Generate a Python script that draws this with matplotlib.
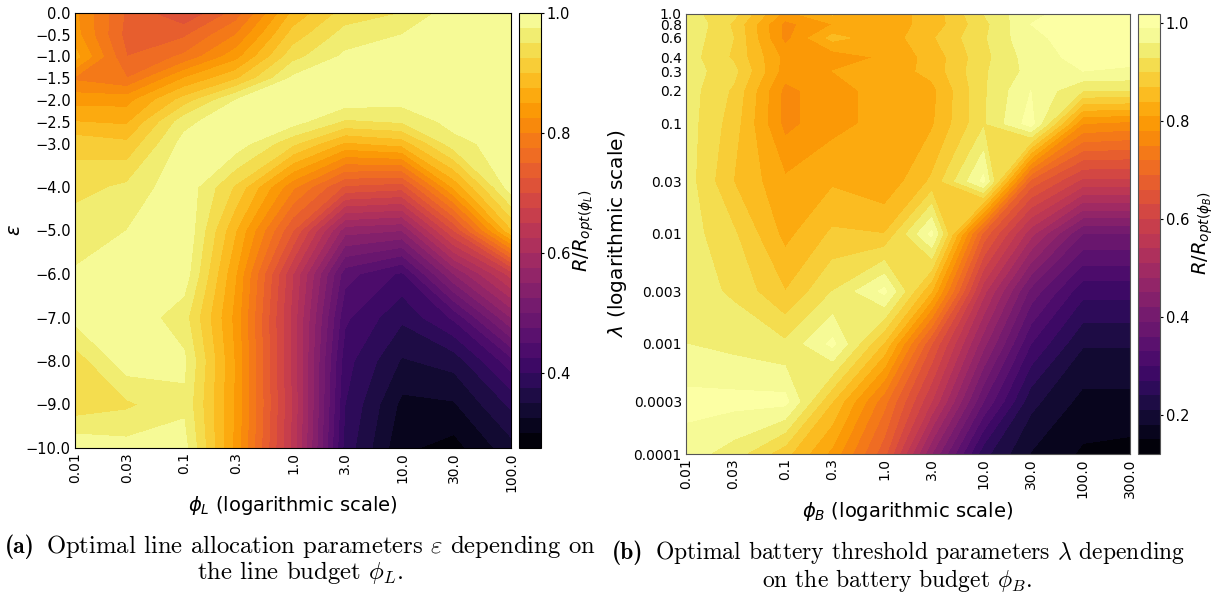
import matplotlib
matplotlib.use('Agg')
import matplotlib.pyplot as plt
import numpy as np

plt.rcParams['mathtext.fontset'] = 'dejavusans'

phi_l = [0.01, 0.03, 0.1, 0.3, 1.0, 3.0, 10.0, 30.0, 100.0]
eps = [0.0, -0.5, -1.0, -1.5, -2.0, -2.5, -3.0, -4.0, -5.0, -6.0, -7.0, -8.0, -9.0, -10.0]
# one list per phi_L, from epsilon 0 down to -10
l_001 = [.83, .835, .86, .795, .84, .875, .915, .94, .965, .977, .983, .935, .933, .995]
l_003 = [.745, .74, .75, .775, .84, .87, .905, .955, .975, .99, .995, .99, .945, .985]
l_01 = [.70, .745, .78, .85, .91, .965, .985, .995, 1.0, .99, .96, .98, .97, .985]
l_03 = [.76, .80, .84, .895, .975, 1.0, .99, .92, .875, .85, .84, .845, .845, .84]
l_1 = [.88, .91, .94, .98, 1.0, .985, .93, .805, .725, .65, .64, .64, .645, .64]
l_3 = [.935, .96, .98, 1.0, .99, .945, .87, .72, .56, .46, .43, .41, .40, .39]
l_10 = [.95, .975, .99, 1.0, .985, .952, .885, .71, .55, .42, .38, .347, .318, .305]
l_30 = [.99, 1.0, 1.0, 1.0, 1.0, .985, .965, .855, .70, .55, .43, .36, .322, .29]
l_100 = [1.0, 1.0, 1.0, 1.0, 1.0, 1.0, .99, .99, .895, .66, .55, .44, .38, .34]

phi_b = [0.01, 0.03, 0.1, 0.3, 1.0, 3.0, 10.0, 30.0, 100.0, 300.0]
lam = [1.0, 0.8, 0.6, 0.4, 0.3, 0.2, 0.1, 0.03, 0.01, 0.003, 0.001, 0.0003, 0.0001]
lam_labels = ['1.0', '0.8', '0.6', '0.4', '0.3', '0.2', '0.1', '0.03', '0.01', '0.003', '0.001', '0.0003', '0.0001']
# one list per phi_B, from lambda 1.0 down to 0.0001
b_001 = [.94, .96, .95, .945, .945, .945, .945, .945, .945, .945, .96, 1.0, .975]
b_003 = [.91, .895, .90, .895, .91, .895, .885, .87, .905, .925, .95, 1.0, .945]
b_01 = [.80, .77, .77, .80, .795, .77, .77, .815, .83, .87, .935, 1.0, .88]
b_03 = [.845, .81, .85, .79, .81, .80, .80, .835, .875, .93, .998, .87, .80]
b_1 = [.825, .825, .82, .815, .82, .82, .82, .815, .87, .998, .865, .73, .67]
b_3 = [.85, .85, .865, .85, .85, .83, .835, .875, .998, .84, .66, .57, .45]
b_10 = [.93, .92, .925, .92, .925, .925, .925, .998, .68, .55, .46, .36, .25]
b_30 = [.985, .99, .985, .975, .97, .99, 1.005, .68, .52, .38, .30, .22, .178]
b_100 = [1.0, 1.0, 1.0, 1.0, .99, .93, .78, .59, .39, .28, .213, .17, .145]
b_300 = [1.0, 1.0, 1.0, 1.0, .985, .93, .77, .59, .39, .28, .213, .17, .14]

W, H = 1217, 595
fig = plt.figure(figsize=(W / 100, H / 100), dpi=100)


def box(x0, x1, y0, y1):
    return [x0 / W, 1 - y1 / H, (x1 - x0) / W, (y1 - y0) / H]


# left panel
ax = fig.add_axes(box(75, 511, 13, 448))
z = np.column_stack([l_001, l_003, l_01, l_03, l_1, l_3, l_10, l_30, l_100])
cs = ax.contourf(np.log10(phi_l), eps, z, levels=np.linspace(0.275, 1.0, 30), cmap='inferno')
ax.set_xticks(np.log10(phi_l))
ax.set_xticklabels([str(v) for v in phi_l], rotation=90, fontsize=10)
ax.set_yticks(eps)
ax.set_yticklabels([str(v).replace('-', '\u2212') for v in eps], fontsize=10.5)
ax.tick_params(length=0, pad=3)
ax.set_xlabel(r'$\phi_L$ (logarithmic scale)', fontsize=14, labelpad=2)
ax.set_ylabel(r'$\varepsilon$', fontsize=14, labelpad=1)
cax = fig.add_axes(box(519, 541, 13, 448))
cb = fig.colorbar(cs, cax=cax)
cb.set_ticks([0.4, 0.6, 0.8, 1.0])
cb.ax.tick_params(labelsize=10.5, length=2, pad=2)
cb.set_label(r'$R/R_{opt(\phi_L)}$', fontsize=14, labelpad=1)

# right panel
ax2 = fig.add_axes(box(686, 1130, 13.5, 454))
z2 = np.column_stack([b_001, b_003, b_01, b_03, b_1, b_3, b_10, b_30, b_100, b_300])
cs2 = ax2.contourf(np.log10(phi_b), np.log10(lam), z2, levels=np.linspace(0.12, 1.02, 31),
                   cmap='inferno', vmin=0.12, vmax=0.99)
ax2.set_xticks(np.log10(phi_b))
ax2.set_xticklabels([str(v) for v in phi_b], rotation=90, fontsize=10)
ax2.set_yticks(np.log10(lam))
ax2.set_yticklabels(lam_labels, fontsize=10)
ax2.tick_params(length=0, pad=3)
ax2.set_xlabel(r'$\phi_B$ (logarithmic scale)', fontsize=14, labelpad=2)
ax2.set_ylabel(r'$\lambda$ (logarithmic scale)', fontsize=14.5, labelpad=3)
for s in ax2.spines.values():
    s.set_color('#555555')
cax2 = fig.add_axes(box(1138, 1160, 13.5, 454))
cb2 = fig.colorbar(cs2, cax=cax2)
cb2.set_ticks([0.2, 0.4, 0.6, 0.8, 1.0])
cb2.ax.tick_params(labelsize=10.5, length=2, pad=2)
cb2.outline.set_edgecolor('#555555')
cb2.set_label(r'$R/R_{opt(\phi_B)}$', fontsize=14, labelpad=1)

# captions under the panels
fig.text(5 / W, 1 - 547 / H, '(a)', family='cmb10', fontsize=17, va='center')
fig.text(321 / W, 1 - 547 / H, r'Optimal line allocation parameters $\varepsilon$ depending on',
         family='cmr10', fontsize=17.8, va='center', ha='center', math_fontfamily='cm')
fig.text(300 / W, 1 - 573 / H, r'the line budget $\phi_L$.',
         family='cmr10', fontsize=17.8, va='center', ha='center', math_fontfamily='cm')
fig.text(612 / W, 1 - 553 / H, '(b)', family='cmb10', fontsize=17, va='center')
fig.text(920 / W, 1 - 553 / H, r'Optimal battery threshold parameters $\lambda$ depending',
         family='cmr10', fontsize=17, va='center', ha='center', math_fontfamily='cm')
fig.text(897 / W, 1 - 580 / H, r'on the battery budget $\phi_B$.',
         family='cmr10', fontsize=17, va='center', ha='center', math_fontfamily='cm')

fig.savefig('out.png', dpi=100)
